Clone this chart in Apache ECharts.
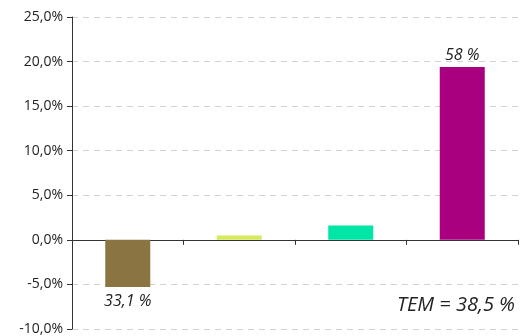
<!DOCTYPE html>
<html>
<head>
<meta charset="utf-8">
<script src="https://cdn.jsdelivr.net/npm/echarts@6/dist/echarts.min.js"></script>
<style>html,body{margin:0;padding:0;background:#fff;}#c{width:527px;height:336px;}</style>
</head>
<body>
<div id="c"></div>
<script>
const categories = ['A', 'B', 'C', 'D'];
const values = [-5.3, 0.5, 1.6, 19.4];
const barColors = ['#8a7442', '#d6ea5c', '#00e6a6', '#a8007e'];
const barLabels = ['33,1 %', '', '', '58 %'];
const noteText = 'TEM = 38,5 %';
const yMin = -10, yMax = 25, yStep = 5;

const chart = echarts.init(document.getElementById('c'), null, {renderer: 'canvas'});
const font = '"Open Sans", "DejaVu Sans", sans-serif';
chart.setOption({
  animation: false,
  grid: {left: 72, right: 9, top: 17, bottom: 7, containLabel: false},
  xAxis: {
    type: 'category',
    data: categories,
    axisLine: {onZero: true, lineStyle: {color: '#333', width: 1}},
    axisTick: {show: true, alignWithLabel: false, length: 5, lineStyle: {color: '#333'}},
    axisLabel: {show: false},
    splitLine: {show: false}
  },
  yAxis: {
    type: 'value',
    min: yMin, max: yMax, interval: yStep,
    axisLine: {show: true, lineStyle: {color: '#333'}},
    axisTick: {show: true, length: 5, lineStyle: {color: '#333'}},
    axisLabel: {
      color: '#222', fontSize: 14, fontFamily: font, margin: 9,
      formatter: v => v.toFixed(1).replace('.', ',') + '%'
    },
    splitLine: {show: true, lineStyle: {color: '#d2d2d2', type: [6, 5], width: 1}}
  },
  series: [{
    type: 'bar',
    barWidth: 45,
    data: values.map((v, i) => ({
      value: v,
      itemStyle: {color: barColors[i]},
      label: {
        show: barLabels[i] !== '',
        position: v < 0 ? 'bottom' : 'top',
        formatter: barLabels[i],
        fontStyle: 'italic', fontSize: 16, color: '#222', fontFamily: font,
        distance: v < 0 ? 6 : 3
      }
    }))
  }],
  graphic: [{
    type: 'text',
    right: 12,
    top: 295,
    style: {text: noteText, font: 'italic 20px ' + font, fill: '#222'}
  }]
});
</script>
</body>
</html>
